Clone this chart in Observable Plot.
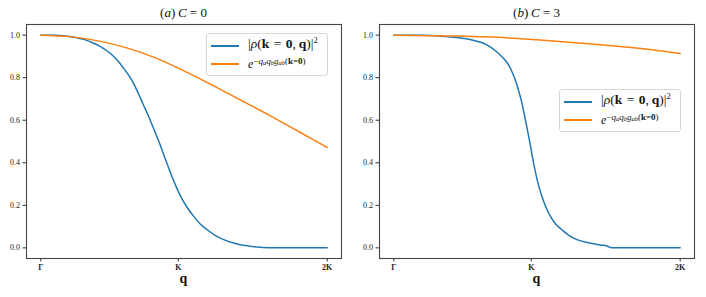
<!DOCTYPE html>
<html>
<head>
<meta charset="utf-8">
<script src="https://cdn.jsdelivr.net/npm/d3@7"></script>
<script src="https://cdn.jsdelivr.net/npm/@observablehq/plot@0.6"></script>
<style>
  html, body { margin: 0; padding: 0; background: white; }
  #fig { position: relative; width: 706px; height: 297px; font-family: "Liberation Serif", "Times New Roman", serif; color: #111; }
  .panel { position: absolute; top: 0; width: 353px; height: 297px; }
  .panel svg { position: absolute; left: 0; top: 0; }
  .title { position: absolute; left: 26px; width: 315px; top: 6px; text-align: center; font-size: 13px; line-height: 14px; }
  .xlabel { position: absolute; left: 26px; width: 315px; top: 272px; text-align: center; font-size: 14px; font-weight: bold; line-height: 14px; }
  .legend { position: absolute; width: 122px; height: 43px; border: 1px solid #d8d8d8; border-radius: 3px; background: rgba(255,255,255,0.85); box-sizing: border-box; }
  .legend .sw { position: absolute; left: 4px; width: 28px; height: 2px; }
  .legend .lt { position: absolute; left: 41px; white-space: nowrap; line-height: 12px; }
  .legend .t1 { font-size: 13.5px; top: 4px; }
  .legend .t2 { font-size: 12px; top: 24px; }
  .legend .t1 sup { font-size: 8.5px; vertical-align: 5px; line-height: 0; }
  .legend .t2 sup { font-size: 9px; vertical-align: 4px; line-height: 0; }
  .legend sub { font-size: 6.5px; vertical-align: -1px; line-height: 0; }
</style>
</head>
<body>
<div id="fig"></div>
<script>
// ---- data (x = fractional position along path Γ → 2K) ----
const qTicks = [0, 0.48, 1];
const qTickLabels = ["Γ", "K", "2K"];
const yTicks = [0, 0.2, 0.4, 0.6, 0.8, 1.0];

// panel (a) C = 0
const aRhoX = [0, 0.05, 0.1, 0.125, 0.15, 0.183, 0.21, 0.241, 0.265, 0.288, 0.31, 0.323, 0.34, 0.357, 0.375, 0.392, 0.416, 0.435, 0.453, 0.47, 0.488, 0.51, 0.534, 0.555, 0.581, 0.61, 0.639, 0.67, 0.697, 0.725, 0.755, 0.8, 0.9, 1.0];
const aRhoY = [1.0, 0.999, 0.994, 0.988, 0.980, 0.963, 0.945, 0.916, 0.885, 0.846, 0.805, 0.776, 0.728, 0.676, 0.622, 0.567, 0.487, 0.417, 0.352, 0.296, 0.243, 0.192, 0.148, 0.115, 0.085, 0.058, 0.039, 0.024, 0.015, 0.009, 0.004, 0.001, 0.0, 0.0];
const aExpX = [0, 0.1, 0.2, 0.3, 0.4, 0.5, 0.6, 0.7, 0.8, 0.9, 1.0];
const aExpY = [1.0, 0.993, 0.973, 0.940, 0.893, 0.832, 0.764, 0.693, 0.622, 0.547, 0.472];

// panel (b) C = 3
const bRhoX = [0, 0.1, 0.15, 0.183, 0.22, 0.253, 0.28, 0.311, 0.335, 0.358, 0.375, 0.392, 0.405, 0.416, 0.428, 0.439, 0.448, 0.456, 0.465, 0.474, 0.482, 0.494, 0.505, 0.517, 0.531, 0.546, 0.565, 0.587, 0.61, 0.639, 0.68, 0.72, 0.745, 0.752, 0.76, 0.8, 1.0];
const bRhoY = [1.0, 0.999, 0.997, 0.993, 0.989, 0.983, 0.975, 0.963, 0.946, 0.923, 0.902, 0.877, 0.850, 0.817, 0.774, 0.724, 0.677, 0.625, 0.565, 0.503, 0.442, 0.360, 0.296, 0.243, 0.192, 0.150, 0.112, 0.085, 0.060, 0.039, 0.024, 0.014, 0.009, 0.004, 0.001, 0.0, 0.0];
const bExpX = [0, 0.2, 0.4, 0.5, 0.6, 0.7, 0.8, 0.9, 1.0];
const bExpY = [1.0, 0.996, 0.987, 0.978, 0.968, 0.957, 0.945, 0.931, 0.914];

const titles = ['(<i>a</i>)&#8201;<i>C</i> = 0', '(<i>b</i>)&#8201;<i>C</i> = 3'];
const legendRho = '|<i>ρ</i>(<b>k</b>&#8196;=&#8196;<b>0</b>,&#8201;<b>q</b>)|<sup>2</sup>';
const legendExp = '<i>e</i><sup>−<i>q</i><sub><i>a</i></sub><i>q</i><sub><i>b</i></sub><i>g</i><sub><i>ab</i></sub>(<b>k</b>=<b>0</b>)</sup>';
const blue = "#1f77b4", orange = "#ff7f0e";

function zip(xs, ys) { return xs.map((x, i) => ({x, y: ys[i]})); }

function panel(left, title, rhoX, rhoY, expX, expY, legLeft, legTop) {
  const div = document.createElement("div");
  div.className = "panel";
  div.style.left = left + "px";
  const svg = Plot.plot({
    width: 353, height: 297,
    marginLeft: 26, marginRight: 12, marginTop: 24, marginBottom: 39,
    style: {fontFamily: '"Liberation Serif", "Times New Roman", serif', fontSize: "8px", background: "transparent", color: "#222"},
    x: {domain: [-0.05, 1.05]},
    y: {domain: [-0.05, 1.05]},
    marks: [
      Plot.axisX({ticks: qTicks, tickFormat: (d) => qTickLabels[qTicks.indexOf(d)], tickSize: 3.5, tickPadding: 2.5, label: null, fontWeight: "bold", stroke: "#333"}),
      Plot.axisY({ticks: yTicks, tickFormat: d3.format(".1f"), tickSize: 3.5, tickPadding: 3, label: null, stroke: "#333"}),
      Plot.line(zip(rhoX, rhoY), {x: "x", y: "y", stroke: blue, strokeWidth: 1.5, curve: "monotone-x"}),
      Plot.line(zip(expX, expY), {x: "x", y: "y", stroke: orange, strokeWidth: 1.5, curve: "monotone-x"}),
      Plot.frame({stroke: "#444", strokeWidth: 1.1})
    ]
  });
  div.appendChild(svg);
  const t = document.createElement("div"); t.className = "title"; t.innerHTML = title; div.appendChild(t);
  const xl = document.createElement("div"); xl.className = "xlabel"; xl.textContent = "q"; div.appendChild(xl);
  const lg = document.createElement("div"); lg.className = "legend";
  lg.style.left = legLeft + "px"; lg.style.top = legTop + "px";
  lg.innerHTML = `<div class="sw" style="top:10.5px;background:${blue}"></div>
    <div class="sw" style="top:29px;background:${orange}"></div>
    <div class="lt t1">${legendRho}</div>
    <div class="lt t2">${legendExp}</div>`;
  div.appendChild(lg);
  return div;
}

const fig = document.getElementById("fig");
fig.appendChild(panel(0, titles[0], aRhoX, aRhoY, aExpX, aExpY, 206, 33));
fig.appendChild(panel(353, titles[1], bRhoX, bRhoY, bExpX, bExpY, 206, 89));
</script>
</body>
</html>
